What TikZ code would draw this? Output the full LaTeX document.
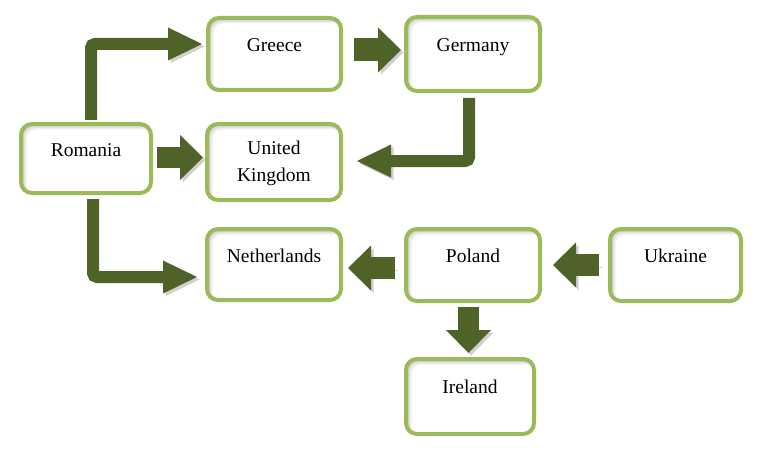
\documentclass[tikz,border=0pt]{standalone}
\usepackage{fontspec}
\setmainfont{Liberation Serif}
\usetikzlibrary{arrows.meta}
\definecolor{boxgreen}{HTML}{9BBB59}
\definecolor{arrgreen}{HTML}{4F6228}
\definecolor{shadowgray}{HTML}{D0D0D0}
\begin{document}
\begin{tikzpicture}[x=1pt,y=-1pt,
  box/.style={draw=boxgreen, line width=4pt, rounded corners=11pt, fill=white, inner sep=0pt,
    path picture={
      \foreach \s/\c in {4/black!6,2.5/black!12,1/black!20}{
        \draw[\c, line width=3pt, rounded corners=11pt]
          ([xshift=\s pt,yshift=-\s pt]path picture bounding box.south west) rectangle
          ([xshift=\s pt,yshift=-\s pt]path picture bounding box.north east);
      }}},
  lbl/.style={font=\fontspec{Liberation Serif}\fontsize{19.5}{27}\selectfont, anchor=base, inner sep=0pt, align=center},
  ashadow/.style={preaction={draw=shadowgray, transform canvas={xshift=2.5pt,yshift=-2.5pt}}},
  blk/.style={draw=arrgreen, line width=#1, ashadow, -{Triangle[length=23pt,width=45pt,line width=0pt]}},
  bentarr/.style={draw=arrgreen, line width=12pt, rounded corners=4pt, ashadow, -{Triangle[length=34pt,width=33pt,line width=0pt]}}]
\useasboundingbox (0,0) rectangle (784,468);

\node[box, minimum width=133pt, minimum height=72pt] (gre) at (274.5,54) {};
\node[box, minimum width=134pt, minimum height=74pt] (ger) at (473,54) {};
\node[box, minimum width=130pt, minimum height=69pt] (rom) at (86,158.5) {};
\node[box, minimum width=134pt, minimum height=76pt] (uk) at (274,162) {};
\node[box, minimum width=134pt, minimum height=71pt] (net) at (274,264.5) {};
\node[box, minimum width=134pt, minimum height=72pt] (pol) at (473,265) {};
\node[box, minimum width=131pt, minimum height=72pt] (ukr) at (675.5,265) {};
\node[box, minimum width=128pt, minimum height=75pt] (ire) at (470,396.5) {};

\node[lbl] (gret) at ([yshift=-36pt]gre.north) {Greece};
\node[lbl] (gert) at ([yshift=-37pt]ger.north) {Germany};
\node[lbl] (romt) at ([yshift=-34pt]rom.north) {Romania};
\node[lbl, anchor=center] (ukt) at (274,163) {United\\Kingdom};
\node[lbl] (nett) at ([yshift=-35pt]net.north) {Netherlands};
\node[lbl] (polt) at ([yshift=-35pt]pol.north) {Poland};
\node[lbl] (ukrt) at ([yshift=-35pt]ukr.north) {Ukraine};
\node[lbl] (iret) at ([yshift=-36pt]ire.north) {Ireland};

\draw[blk=23pt] ([xshift=11pt,yshift=4pt]gre.east) -- ([xshift=-3pt,yshift=4pt]ger.west);
\draw[blk=21pt] ([xshift=4pt,yshift=1pt]rom.east) -- ([xshift=-2pt,yshift=1pt]rom.east -| uk.west);
\draw[blk=22pt] ([xshift=-9pt,yshift=-3pt]pol.west) -- ([xshift=5pt,yshift=-3pt]pol.west -| net.east);
\draw[blk=22pt] ([xshift=-9pt]ukr.west) -- ([xshift=11pt]ukr.west -| pol.east);
\coordinate (pa) at ([xshift=-4.5pt,yshift=-4pt]pol.south);
\draw[blk=21pt] (pa) -- ([yshift=4pt]ire.north -| pa);

\draw[bentarr] ([xshift=5pt,yshift=2pt]rom.north) |- ([xshift=-4pt,yshift=10pt]gre.west);
\draw[bentarr] ([xshift=7pt,yshift=-4pt]rom.south) |- ([xshift=-8pt,yshift=-12.5pt]net.west);
\draw[bentarr] ([xshift=-4pt,yshift=-5pt]ger.south) |- ([xshift=14pt,yshift=1pt]uk.east);
\end{tikzpicture}
\end{document}
